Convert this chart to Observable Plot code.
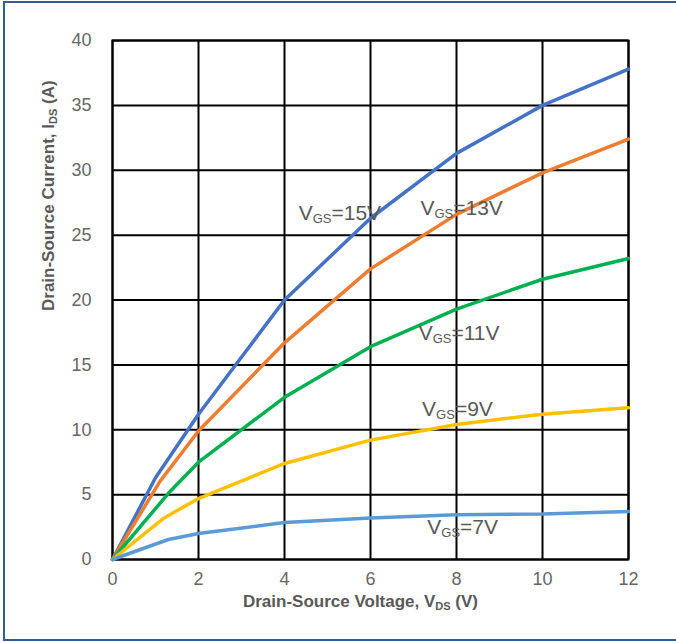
<!DOCTYPE html>
<html>
<head>
<meta charset="utf-8">
<script src="https://cdn.jsdelivr.net/npm/d3@7"></script>
<script src="https://cdn.jsdelivr.net/npm/@observablehq/plot@0.6"></script>
<style>
  html, body { margin: 0; padding: 0; background: #fff; overflow: hidden; width: 676px; height: 642px; }
  #chart { position: absolute; left: 0; top: 0; }
  #border { position: absolute; left: 3px; top: 1px; width: 800px; height: 640px; box-sizing: border-box; border: 2.5px solid #2f5f93; pointer-events: none; }
</style>
</head>
<body>
<div id="chart"></div>
<div id="border"></div>
<script>
// ---- data ----
const vds15 = [0, 1.0, 2, 4, 6, 8, 10, 12];
const ids15 = [0, 6.3, 11.2, 20.0, 26.3, 31.3, 35.0, 37.8];
const vds13 = [0, 1.1, 2, 4, 6, 8, 10, 12];
const ids13 = [0, 6.0, 9.9, 16.7, 22.4, 26.6, 29.8, 32.4];
const vds11 = [0, 1.3, 2, 4, 6, 8, 10, 12];
const ids11 = [0, 5.1, 7.5, 12.5, 16.4, 19.3, 21.6, 23.2];
const vds9  = [0, 1.2, 2, 4, 6, 8, 10, 12];
const ids9  = [0, 3.2, 4.7, 7.4, 9.2, 10.4, 11.2, 11.7];
const vds7  = [0, 1.3, 2, 4, 6, 8, 10, 12];
const ids7  = [0, 1.54, 2.0, 2.85, 3.2, 3.45, 3.5, 3.7];
const seriesNames = ["15V", "13V", "11V", "9V", "7V"];
const xTicks = [0, 2, 4, 6, 8, 10, 12];
const yTicks = [0, 5, 10, 15, 20, 25, 30, 35, 40];
const labelText = ["V_{GS}=15V", "V_{GS}=13V", "V_{GS}=11V", "V_{GS}=9V", "V_{GS}=7V"];
const labelX = [4.33, 7.16, 7.12, 7.2, 7.32];
const labelY = [26.7, 27.1, 17.4, 11.6, 2.45];
const xTitle = "Drain-Source Voltage, V_{DS} (V)";
const yTitle = "Drain-Source Current, I_{DS} (A)";

const seriesColors = ["#4472C4", "#ED7D31", "#00B050", "#FFC000", "#5B9BD5"];
const allX = [vds15, vds13, vds11, vds9, vds7];
const allIds = [ids15, ids13, ids11, ids9, ids7];
const rows = [];
seriesNames.forEach((name, s) => allX[s].forEach((x, i) => rows.push({vgs: name, vds: x, ids: allIds[s][i]})));
const labels = labelText.map((t, i) => ({text: t, x: labelX[i], y: labelY[i]}));

const gray = "#595959";
const chart = Plot.plot({
  width: 676,
  height: 642,
  marginLeft: 112,
  marginRight: 48,
  marginTop: 40,
  marginBottom: 83,
  x: {domain: [0, 12], label: null},
  y: {domain: [0, 40], label: null},
  color: {domain: seriesNames, range: seriesColors},
  style: {fontFamily: "'Liberation Sans Narrow', 'Liberation Sans', sans-serif", fontSize: "18px", color: "#666", background: "transparent", overflow: "visible"},
  marks: [
    Plot.gridX(xTicks, {stroke: "#000", strokeOpacity: 1, strokeWidth: 2}),
    Plot.gridY(yTicks, {stroke: "#000", strokeOpacity: 1, strokeWidth: 2}),
    Plot.frame({stroke: "#000", strokeWidth: 2}),
    Plot.axisX(xTicks, {tickSize: 0, tickPadding: 13, label: null, fill: "#666", fontSize: 18, tickFormat: d => String(d)}),
    Plot.axisY(yTicks, {tickSize: 0, tickPadding: 21, label: null, fill: "#666", fontSize: 18, tickFormat: d => String(d)}),
    Plot.line(rows, {x: "vds", y: "ids", z: "vgs", stroke: "vgs", strokeWidth: 3.5, curve: "linear", strokeLinejoin: "round"}),
    Plot.text(labels, {x: "x", y: "y", text: "text", textAnchor: "start", fill: gray, fontSize: 21, className: "curve-label"}),
    Plot.text([xTitle], {frameAnchor: "bottom", dy: 47, dx: -10, fill: gray, fontSize: 17, fontWeight: "bold", fontFamily: "'Liberation Sans', sans-serif", className: "axis-title"}),
    Plot.text([yTitle], {frameAnchor: "left", rotate: -90, dx: -64, dy: 11, fill: gray, fontSize: 17, fontWeight: "bold", fontFamily: "'Liberation Sans', sans-serif", className: "axis-title"})
  ]
});
document.getElementById("chart").appendChild(chart);

// subscripts: turn "A_{BC}D" into tspans
function subscriptify(textEl, subSize, subFamily, shift) {
  const s = textEl.textContent;
  if (!s.includes("_{")) return;
  const parts = [];
  const re = /_\{([^}]*)\}/g;
  let last = 0, m;
  while ((m = re.exec(s))) {
    if (m.index > last) parts.push({t: s.slice(last, m.index), sub: false});
    parts.push({t: m[1], sub: true});
    last = re.lastIndex;
  }
  if (last < s.length) parts.push({t: s.slice(last), sub: false});
  while (textEl.firstChild) textEl.removeChild(textEl.firstChild);
  const ns = "http://www.w3.org/2000/svg";
  let lowered = false;
  parts.forEach(p => {
    const ts = document.createElementNS(ns, "tspan");
    ts.textContent = p.t;
    if (p.sub) {
      ts.setAttribute("font-size", subSize);
      if (subFamily) ts.setAttribute("font-family", subFamily);
      ts.setAttribute("dy", shift);
      lowered = true;
    } else if (lowered) {
      ts.setAttribute("dy", -shift);
      lowered = false;
    }
    textEl.appendChild(ts);
  });
}
chart.querySelectorAll("g.curve-label text").forEach(t => subscriptify(t, 13, "'Liberation Sans', sans-serif", 3));
chart.querySelectorAll("g.axis-title text").forEach(t => subscriptify(t, 11, null, 3));
</script>
</body>
</html>
